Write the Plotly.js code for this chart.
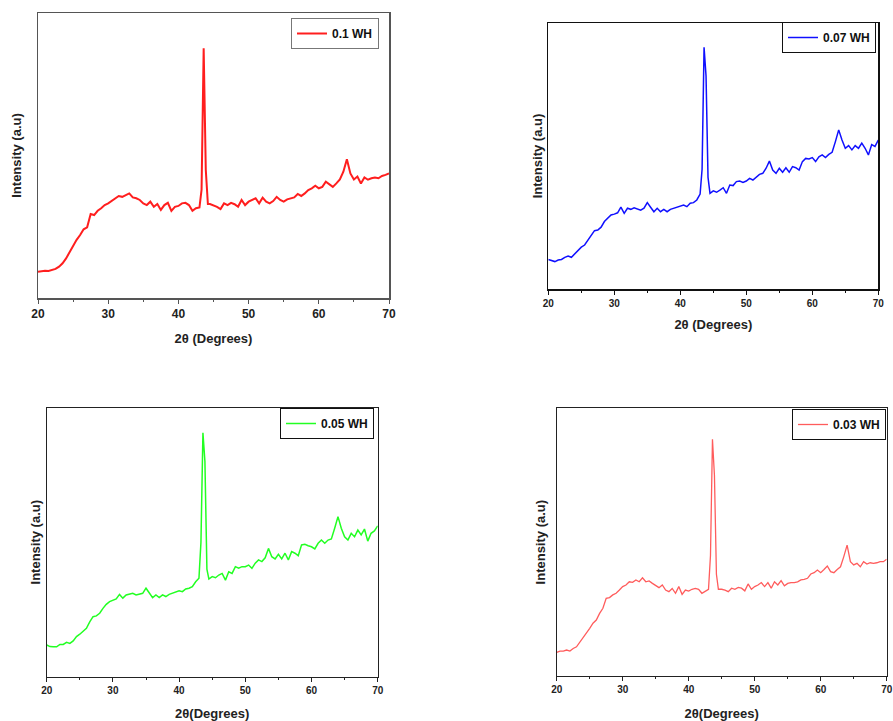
<!DOCTYPE html>
<html>
<head>
<meta charset="utf-8">
<script src="https://cdn.plot.ly/plotly-3.0.1.min.js"></script>
<style>html,body{margin:0;padding:0;background:#fff;}#chart{width:893px;height:721px;}</style>
</head>
<body>
<div id="chart"></div>
<script>
// 2θ positions (degrees), shared by all four patterns
const twoTheta = [
  20,20.5,21,21.5,22,22.5,23,23.5,24,24.5,25,25.5,26,26.5,27,27.5,28,28.5,29,29.5,
  30,30.5,31,31.5,32,32.5,33,33.5,34,34.5,35,35.5,36,36.5,37,37.5,38,38.5,39,39.5,
  40,40.5,41,41.5,42,42.5,43,
  43.3,43.6,43.9,44.2,
  44.5,45,45.5,46,46.5,47,47.5,48,48.5,49,49.5,50,50.5,51,51.5,52,52.5,53,53.5,54,
  54.5,55,55.5,56,56.5,57,57.5,58,58.5,59,59.5,60,60.5,61,61.5,62,62.5,63,63.5,64,
  64.5,65,65.5,66,66.5,67,67.5,68,68.5,69,69.5,70
];

// Intensity (a.u.)
const wh010 = [
  9.2,9.4,9.6,9.5,9.8,10.2,11.0,12.2,13.9,16.2,18.6,20.4,22.1,24.1,24.8,29.5,29.1,30.6,31.5,32.6,
  33.2,34.1,35.0,35.8,35.5,36.1,36.7,35.3,35.0,34.4,33.2,32.6,33.8,32.0,33.0,30.9,32.6,33.4,30.6,32.0,
  32.3,33.2,33.4,32.6,30.6,31.5,31.8,
  38,87.6,45,33,
  33.0,32.6,32.0,31.2,33.2,32.6,33.4,32.9,32.0,34.4,32.6,33.8,34.4,35.0,33.2,35.2,33.8,33.2,34.0,35.5,
  34.4,33.8,34.6,35.0,35.3,36.5,35.8,36.7,37.9,38.5,39.4,38.5,39.0,40.8,40.0,39.0,40.2,41.6,44.3,48.7,
  43.7,41.6,42.6,40.2,42.3,41.5,42.0,42.3,42.0,42.8,43.2,43.7
];
const wh007 = [
  11.2,10.7,10.4,11.0,11.2,12.0,12.5,12.0,13.2,14.7,15.8,16.6,18.5,20.4,22.0,22.2,23.3,25.4,26.6,27.9,
  28.2,28.7,30.8,28.5,30.4,30.0,30.6,30.0,29.7,30.4,32.5,30.8,29.1,30.4,29.1,30.0,29.1,30.0,30.4,31.0,
  31.2,31.6,31.0,32.3,32.5,33.5,35.7,
  45,90.8,80,42,
  36.0,36.9,36.4,37.2,38.1,36.0,39.1,38.9,40.4,40.6,40.1,40.6,41.6,41.0,42.2,43.1,43.5,45.4,48.1,44.7,
  43.5,45.4,43.9,45.6,43.9,46.0,45.6,44.7,47.9,49.1,48.9,49.4,47.9,49.7,50.4,49.4,50.6,51.4,55.4,59.8,
  56.0,52.9,53.9,52.3,53.9,52.9,54.8,52.9,50.4,54.3,53.6,56.0
];
const wh005 = [
  11.8,11.2,11.1,11.1,12.0,12.0,12.8,12.4,13.3,14.9,15.8,17.0,18.0,20.4,22.3,22.6,23.6,25.4,26.9,27.9,
  28.5,28.9,30.6,29.2,30.4,30.6,31.0,30.4,30.6,31.0,32.9,31.0,29.4,30.4,29.4,30.4,29.8,30.6,31.0,31.6,
  31.9,31.6,32.6,32.9,33.5,35.3,36.6,
  50,90.7,80,40,
  36.3,37.2,36.8,37.8,38.4,35.9,39.0,38.4,40.9,40.3,40.9,40.9,41.5,40.3,42.2,43.4,42.8,44.2,47.7,44.6,
  43.8,45.5,43.8,45.9,43.4,46.5,45.9,45.0,49.0,49.2,48.7,48.3,47.5,49.6,50.8,49.6,50.8,51.2,55.2,59.5,
  55.2,52.0,50.8,53.3,52.0,54.5,52.7,54.9,50.4,53.3,54.2,56.1
];
const wh003 = [
  8.8,9.3,9.3,9.7,9.3,10.3,10.9,12.6,14.1,15.9,17.8,19.7,20.9,23.4,25.3,29.0,29.3,30.3,30.9,32.1,
  33.4,34.0,35.2,35.0,35.9,35.2,36.7,35.2,35.5,34.6,33.7,33.0,34.0,32.1,31.5,32.7,30.9,33.4,30.5,32.1,
  31.7,32.4,32.7,32.4,30.9,31.5,32.4,
  45,88.4,75,38,
  32.4,32.4,32.1,31.5,32.8,32.4,33.1,32.8,31.8,34.4,32.4,33.4,34.0,34.9,33.4,34.9,32.8,35.2,34.0,35.6,
  33.7,34.6,34.9,34.9,35.2,35.9,36.1,36.5,38.1,38.6,39.6,38.6,39.8,41.1,39.0,38.6,39.8,40.8,44.6,48.9,
  42.7,41.5,42.1,40.8,42.7,41.8,42.3,42.1,42.3,42.7,42.7,43.6
];

const seriesNames = ['0.1 WH', '0.07 WH', '0.05 WH', '0.03 WH'];
const xTickVals = [20, 30, 40, 50, 60, 70];
const xTickText = ['20', '30', '40', '50', '60', '70'];
const xTitles = ['2θ (Degrees)', '2θ (Degrees)', '2θ(Degrees)', '2θ(Degrees)'];
const yTitle = 'Intensity (a.u)';

const FONT = 'Arial, "Liberation Sans", sans-serif';
const W = 893, H = 721;
// panel boxes in pixels: [left, right, top, bottom]
const boxes = [
  [38, 389, 13, 298],
  [548.3, 878.3, 22.7, 289.3],
  [46.7, 377.7, 407.7, 676.7],
  [556.7, 886.7, 408.3, 676]
];
const colors = ['#ff1e1e', '#1010ff', '#22ff22', '#ff5c5c'];
const widths = [2, 1.5, 1.5, 1.3];
const frameColors = ['#555555', '#111111', '#222222', '#222222'];
const tickSizes = [12, 10, 10, 10];
const xStandoff = [14, 12, 14, 14];
const yStandoff = [12, 1, 2, 7];
const series = [wh010, wh007, wh005, wh003];

const data = [];
const layout = {
  width: W, height: H,
  margin: {l: 0, r: 0, t: 0, b: 0},
  paper_bgcolor: '#ffffff',
  plot_bgcolor: '#ffffff',
  showlegend: true,
  font: {family: FONT, color: '#000'}
};

for (let i = 0; i < 4; i++) {
  const sfx = i === 0 ? '' : String(i + 1);
  const b = boxes[i];
  data.push({
    type: 'scatter', mode: 'lines',
    x: twoTheta, y: series[i],
    name: seriesNames[i],
    xaxis: 'x' + sfx, yaxis: 'y' + sfx,
    legend: 'legend' + sfx,
    line: {color: colors[i], width: widths[i]}
  });
  layout['xaxis' + sfx] = {
    domain: [b[0] / W, b[1] / W],
    anchor: 'y' + sfx,
    range: [20, 70],
    tickmode: 'array', tickvals: xTickVals, ticktext: xTickText,
    ticks: 'outside', ticklen: 4, tickwidth: 1, tickcolor: frameColors[i],
    minor: {dtick: 5, ticks: 'outside', ticklen: 2, tickcolor: frameColors[i]},
    showline: true, linecolor: frameColors[i], linewidth: i === 0 ? 1.5 : 1.2, mirror: true,
    showgrid: false, zeroline: false,
    tickfont: {family: FONT, size: tickSizes[i], weight: 'bold', color: '#222'},
    title: {text: xTitles[i], font: {family: FONT, size: 13, weight: 'bold', color: '#222'}, standoff: xStandoff[i]},
    automargin: false
  };
  layout['yaxis' + sfx] = {
    domain: [1 - b[3] / H, 1 - b[2] / H],
    anchor: 'x' + sfx,
    range: [0, 100],
    showticklabels: false, ticks: '',
    showline: true, linecolor: frameColors[i], linewidth: i === 0 ? 1.5 : 1.2, mirror: true,
    showgrid: false, zeroline: false,
    title: {text: yTitle, font: {family: FONT, size: 13, weight: 'bold', color: '#222'}, standoff: yStandoff[i]},
    automargin: false
  };
}

const legendPos = [
  [379 / W, 1 - 18 / H],
  [876 / W, 1 - 22 / H],
  [374 / W, 1 - 408 / H],
  [886 / W, 1 - 409 / H]
];
for (let i = 0; i < 4; i++) {
  const sfx = i === 0 ? '' : String(i + 1);
  layout['legend' + sfx] = {
    x: legendPos[i][0], y: legendPos[i][1],
    xanchor: 'right', yanchor: 'top',
    bgcolor: '#ffffff',
    bordercolor: i === 0 ? '#777777' : '#111111',
    borderwidth: 1,
    font: {family: FONT, size: 12, weight: 'bold', color: '#111'},
    itemwidth: 30
  };
}

Plotly.newPlot('chart', data, layout, {displayModeBar: false, staticPlot: true});
</script>
</body>
</html>
